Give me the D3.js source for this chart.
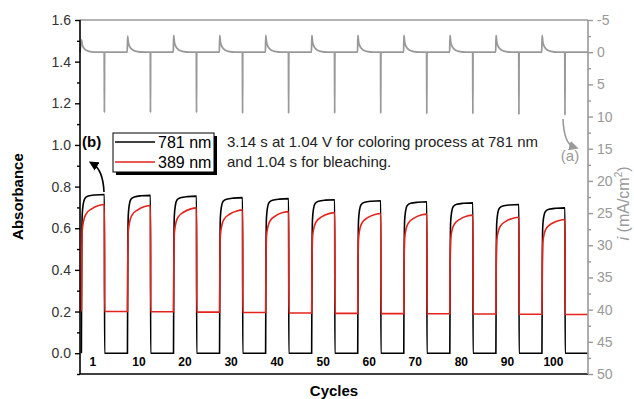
<!DOCTYPE html>
<html>
<head>
<meta charset="utf-8">
<script src="https://cdn.jsdelivr.net/npm/d3@7"></script>
<style>
	body { margin: 0; background: #fff; }
	svg { display: block; font-family: Arial, "Liberation Sans", sans-serif; }
</style>
</head>
<body>
<div id="chart"></div>
<script>
// cycle numbers printed under each coloring step
var cycles = [1, 10, 20, 30, 40, 50, 60, 70, 80, 90, 100];

// absorbance at the end of coloring / after bleaching, per cycle
var peak781 = [0.762, 0.758, 0.754, 0.747, 0.742, 0.737, 0.732, 0.727, 0.722, 0.714, 0.698];
var low781 = [0.0, 0.0, 0.0, 0.0, 0.0, 0.0, 0.0, 0.0, 0.0, 0.0, 0.0];
var peak389 = [0.714, 0.709, 0.698, 0.688, 0.680, 0.675, 0.671, 0.668, 0.663, 0.653, 0.642];
var low389 = [0.200, 0.199, 0.197, 0.195, 0.193, 0.191, 0.190, 0.189, 0.188, 0.187, 0.186];

// rise of absorbance during coloring: [fraction of step, fraction of full change]
var rise781 = [[0, 0], [0.015, 0.6], [0.035, 0.87], [0.08, 0.94], [0.15, 0.975], [0.3, 0.99], [0.6, 0.997], [1, 1]];
var rise389 = [[0, 0], [0.015, 0.5], [0.04, 0.76], [0.1, 0.85], [0.2, 0.91], [0.45, 0.96], [0.75, 0.99], [1, 1]];

// current density peaks (mA/cm2): coloring (negative) and bleaching (positive)
var currentColor = [-1.9, -2.5, -2.6, -2.6, -2.6, -2.6, -2.6, -2.6, -2.6, -2.6, -2.6];
var currentBleach = [9.4, 9.4, 9.4, 9.5, 9.5, 9.5, 9.5, 9.6, 9.6, 9.7, 9.8];
// decay of the coloring current peak: [fraction of step, fraction of peak]
var colorDecay = [[0, 1], [0.04, 0.6], [0.1, 0.35], [0.2, 0.17], [0.35, 0.06], [0.55, 0.01], [0.8, 0]];

var absTicks = [0.0, 0.2, 0.4, 0.6, 0.8, 1.0, 1.2, 1.4, 1.6];
var curTicks = [-5, 0, 5, 10, 15, 20, 25, 30, 35, 40, 45, 50];

var margin = { top: 20, right: 46, bottom: 25, left: 80 },
	width = 634 - margin.left - margin.right,
	height = 399 - margin.top - margin.bottom;

var svg = d3.select("#chart")
	.append("svg")
	.attr("width", 634)
	.attr("height", 399)
	.append("g")
	.attr("transform", "translate(" + margin.left + "," + margin.top + ")");

// one unit = one displayed cycle, first half coloring, second half bleaching
var x = d3.scaleLinear().domain([-0.03, 11]).range([0, width]);
var y = d3.scaleLinear().domain([-0.1, 1.6]).range([height, 0]);
var yCur = d3.scaleLinear().domain([-5, 50]).range([0, height]);

var half = 0.5;
var edge = 0.004;

function absorbancePoints(peaks, lows, rise, start) {
	var pts = [];
	var prev = start;
	peaks.forEach(function (p, k) {
		rise.forEach(function (r) {
			pts.push([k + r[0] * half, prev + r[1] * (p - prev)]);
		});
		pts.push([k + half + edge, lows[k]]);
		pts.push([k + 1 - edge, lows[k]]);
		prev = lows[k];
	});
	return pts;
}

function currentPoints() {
	var pts = [[-0.03, 0]];
	cycles.forEach(function (c, k) {
		colorDecay.forEach(function (r, i) {
			pts.push([k + (i === 0 ? edge : r[0] * half), currentColor[k] * r[1]]);
		});
		pts.push([k + half - edge, 0]);
		pts.push([k + half, currentBleach[k]]);
		pts.push([k + half + edge, 0]);
		pts.push([k + 1 - edge, 0]);
	});
	return pts;
}

var lineAbs = d3.line()
	.x(function (d) { return x(d[0]); })
	.y(function (d) { return y(d[1]); })
	.curve(d3.curveMonotoneX);

var lineCur = d3.line()
	.x(function (d) { return x(d[0]); })
	.y(function (d) { return yCur(d[1]); })
	.curve(d3.curveMonotoneX);

// current trace
svg.append("path")
	.datum(currentPoints())
	.attr("fill", "none")
	.attr("stroke", "#999")
	.attr("stroke-width", 1.8)
	.attr("d", lineCur);

// absorbance traces
svg.append("path")
	.datum(absorbancePoints(peak781, low781, rise781, 0.0))
	.attr("fill", "none")
	.attr("stroke", "#000")
	.attr("stroke-width", 1.6)
	.attr("d", lineAbs);

svg.append("path")
	.datum(absorbancePoints(peak389, low389, rise389, 0.2))
	.attr("fill", "none")
	.attr("stroke", "#e3231c")
	.attr("stroke-width", 1.6)
	.attr("d", lineAbs);

// frame: top and right belong to the current plot (gray)
svg.append("line")
	.attr("x1", 0).attr("x2", width)
	.attr("y1", 0).attr("y2", 0)
	.attr("stroke", "#999").attr("stroke-width", 1.6);

svg.append("line")
	.attr("x1", 0).attr("x2", width)
	.attr("y1", height).attr("y2", height)
	.attr("stroke", "#000").attr("stroke-width", 1.6);

// left axis
var minorAbs = d3.range(-0.1, 1.6, 0.2).map(function (v) { return +v.toFixed(1); });
svg.append("g")
	.call(d3.axisLeft(y).tickValues(minorAbs).tickSize(3).tickFormat(""))
	.call(function (g) { g.select(".domain").remove(); })
	.selectAll("line").attr("stroke", "#000").attr("stroke-width", 1.4);

var leftAxis = svg.append("g")
	.call(d3.axisLeft(y).tickValues(absTicks).tickSize(5).tickPadding(4)
		.tickFormat(d3.format(".1f")));
leftAxis.select(".domain").attr("stroke", "#000").attr("stroke-width", 1.6)
	.attr("d", "M0," + height + "V0");
leftAxis.selectAll("line").attr("stroke", "#000").attr("stroke-width", 1.4);
leftAxis.selectAll("text")
	.attr("fill", "#333")
	.style("font-size", "14px")
	.style("font-family", "Arial, 'Liberation Sans', sans-serif");

// right axis
var minorCur = d3.range(-2.5, 50, 5);
svg.append("g")
	.attr("transform", "translate(" + width + ",0)")
	.call(d3.axisRight(yCur).tickValues(minorCur).tickSize(3).tickFormat(""))
	.call(function (g) { g.select(".domain").remove(); })
	.selectAll("line").attr("stroke", "#999").attr("stroke-width", 1.4);

var rightAxis = svg.append("g")
	.attr("transform", "translate(" + width + ",0)")
	.call(d3.axisRight(yCur).tickValues(curTicks).tickSize(5).tickPadding(4)
		.tickFormat(function (d) { return String(d); }));
rightAxis.select(".domain").attr("stroke", "#999").attr("stroke-width", 1.6)
	.attr("d", "M0,0V" + height);
rightAxis.selectAll("line").attr("stroke", "#999").attr("stroke-width", 1.4);
rightAxis.selectAll("text")
	.attr("fill", "#999")
	.style("font-size", "14px")
	.style("font-family", "Arial, 'Liberation Sans', sans-serif");

// cycle labels
svg.selectAll(".cycle")
	.data(cycles)
	.enter()
	.append("text")
	.attr("class", "cycle")
	.attr("x", function (d, i) { return x(i + half / 2); })
	.attr("y", height - 8)
	.attr("text-anchor", "middle")
	.style("font-size", "12px")
	.style("font-weight", "bold")
	.text(function (d) { return d; });

// axis titles
svg.append("text")
	.attr("x", width / 2)
	.attr("y", height + 22)
	.attr("text-anchor", "middle")
	.style("font-size", "15px")
	.style("font-weight", "bold")
	.text("Cycles");

svg.append("text")
	.attr("transform", "translate(-57," + (y(0.8) + 10) + ") rotate(-90)")
	.attr("text-anchor", "middle")
	.style("font-size", "15px")
	.style("font-weight", "bold")
	.text("Absorbance");

var curLabel = svg.append("text")
	.attr("transform", "translate(" + (width + 41) + "," + yCur(23.5) + ") rotate(-90)")
	.attr("text-anchor", "middle")
	.attr("fill", "#999")
	.style("font-size", "16px");
curLabel.append("tspan").style("font-style", "italic").text("i");
curLabel.append("tspan").text(" (mA/cm");
curLabel.append("tspan").attr("dy", -7).style("font-size", "10px").text("2");
curLabel.append("tspan").attr("dy", 7).text(")");

// legend with drop shadow
var legend = svg.append("g").attr("transform", "translate(33,113)");
legend.append("rect")
	.attr("x", 3).attr("y", 3).attr("width", 101).attr("height", 39)
	.attr("fill", "#000");
legend.append("rect")
	.attr("x", 0).attr("y", 0).attr("width", 101).attr("height", 39)
	.attr("fill", "#fff").attr("stroke", "#000").attr("stroke-width", 1);

var legendItems = [
	{ label: "781 nm", color: "#000" },
	{ label: "389 nm", color: "#e3231c" }
];
legendItems.forEach(function (d, i) {
	legend.append("line")
		.attr("x1", 2).attr("x2", 42)
		.attr("y1", 9 + i * 20).attr("y2", 9 + i * 20)
		.attr("stroke", d.color).attr("stroke-width", 1.6);
	legend.append("text")
		.attr("x", 45).attr("y", 14.5 + i * 20)
		.style("font-size", "16px")
		.text(d.label);
});

svg.append("text")
	.attr("x", 2).attr("y", 127)
	.style("font-size", "15px")
	.style("font-weight", "bold")
	.text("(b)");

// annotation
svg.append("text")
	.attr("x", 147).attr("y", 126.5)
	.attr("fill", "#222")
	.style("font-size", "15px")
	.text("3.14 s at 1.04 V for coloring process at 781 nm");
svg.append("text")
	.attr("x", 147).attr("y", 146.5)
	.attr("fill", "#222")
	.style("font-size", "15px")
	.text("and 1.04 s for bleaching.");

// arrow heads
var defs = d3.select("svg").append("defs");
defs.append("marker")
	.attr("id", "headB")
	.attr("viewBox", "0 0 10 10")
	.attr("refX", 5).attr("refY", 5)
	.attr("markerWidth", 6).attr("markerHeight", 6)
	.attr("orient", "auto")
	.append("path").attr("d", "M0,0L10,5L0,10z").attr("fill", "#000");
defs.append("marker")
	.attr("id", "headA")
	.attr("viewBox", "0 0 10 10")
	.attr("refX", 5).attr("refY", 5)
	.attr("markerWidth", 6).attr("markerHeight", 6)
	.attr("orient", "auto")
	.append("path").attr("d", "M0,0L10,5L0,10z").attr("fill", "#999");

svg.append("path")
	.attr("d", "M24,172 Q23,150 13,144")
	.attr("fill", "none")
	.attr("stroke", "#000")
	.attr("stroke-width", 1.6)
	.attr("marker-end", "url(#headB)");

svg.append("path")
	.attr("d", "M483,99 Q484,124 494,127")
	.attr("fill", "none")
	.attr("stroke", "#999")
	.attr("stroke-width", 1.6)
	.attr("marker-end", "url(#headA)");

svg.append("text")
	.attr("x", 490).attr("y", 141)
	.attr("text-anchor", "middle")
	.attr("fill", "#999")
	.style("font-size", "15px")
	.text("(a)");
</script>
</body>
</html>
